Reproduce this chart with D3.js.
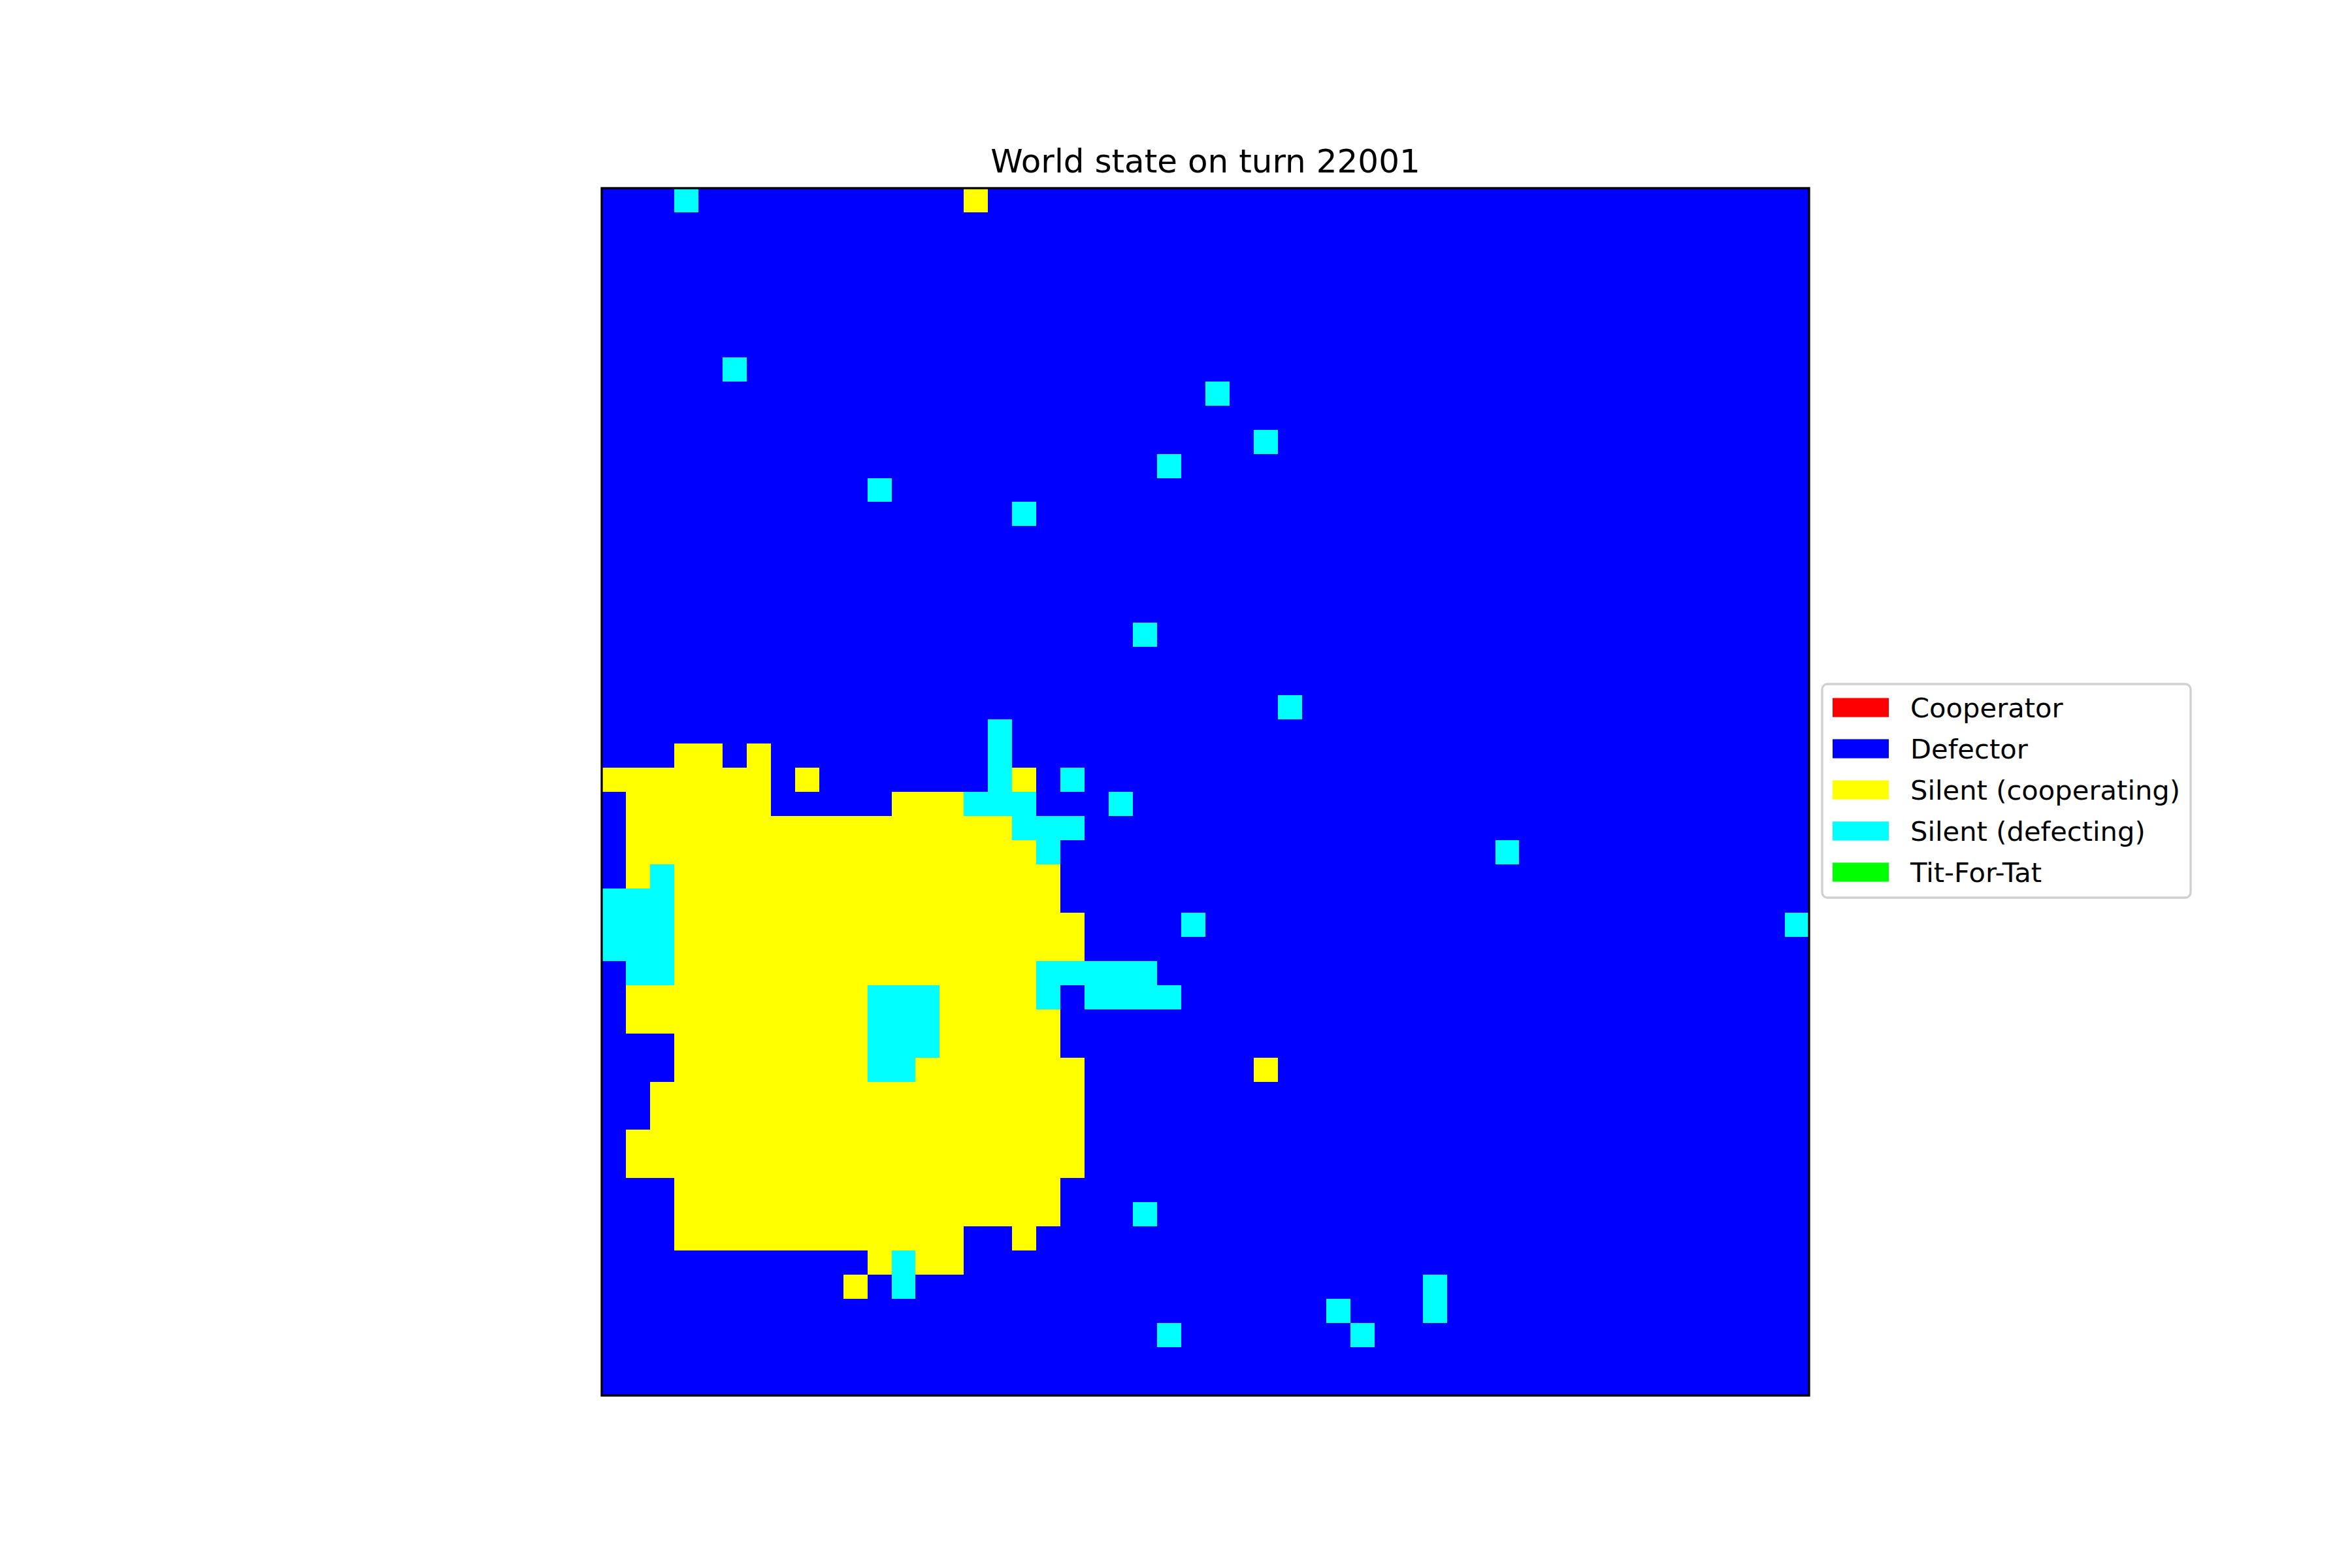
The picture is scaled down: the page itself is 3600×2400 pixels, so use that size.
<!DOCTYPE html>
<html><head><meta charset="utf-8">
<script src="https://cdn.jsdelivr.net/npm/d3@7"></script>
<style>body{margin:0;background:#fff}</style>
</head><body>
<script>
const title = "World state on turn 22001";
const categories = ["Cooperator", "Defector", "Silent (cooperating)", "Silent (defecting)", "Tit-For-Tat"];
const colors = ["#ff0000", "#0000ff", "#ffff00", "#00ffff", "#00ff00"];
const gridSize = 50;
const backgroundState = 1;
// runs: [row, firstCol, lastCol, stateIndex]
const runs = [
  [0,3,3,3],[0,15,15,2],
  [7,5,5,3],[8,25,25,3],[10,27,27,3],[11,23,23,3],[12,11,11,3],[13,17,17,3],[18,22,22,3],[21,28,28,3],
  [22,16,16,3],
  [23,3,4,2],[23,6,6,2],[23,16,16,3],
  [24,0,6,2],[24,8,8,2],[24,16,16,3],[24,17,17,2],[24,19,19,3],
  [25,1,6,2],[25,12,14,2],[25,15,17,3],[25,21,21,3],
  [26,1,16,2],[26,17,19,3],
  [27,1,17,2],[27,18,18,3],[27,37,37,3],
  [28,1,1,2],[28,2,2,3],[28,3,18,2],
  [29,0,2,3],[29,3,18,2],
  [30,0,2,3],[30,3,19,2],[30,24,24,3],[30,49,49,3],
  [31,0,2,3],[31,3,19,2],
  [32,1,2,3],[32,3,17,2],[32,18,22,3],
  [33,1,10,2],[33,11,13,3],[33,14,17,2],[33,18,18,3],[33,20,23,3],
  [34,1,10,2],[34,11,13,3],[34,14,18,2],
  [35,3,10,2],[35,11,13,3],[35,14,18,2],
  [36,3,10,2],[36,11,12,3],[36,13,19,2],[36,27,27,2],
  [37,2,19,2],[38,2,19,2],[39,1,19,2],[40,1,19,2],
  [41,3,18,2],[42,3,18,2],[42,22,22,3],
  [43,3,14,2],[43,17,17,2],
  [44,11,11,2],[44,12,12,3],[44,13,14,2],
  [45,10,10,2],[45,12,12,3],[45,34,34,3],
  [46,30,30,3],[46,34,34,3],
  [47,23,23,3],[47,31,31,3]
];

// build grid
const grid = [];
for (let r = 0; r < gridSize; r++) { grid.push(new Array(gridSize).fill(backgroundState)); }
runs.forEach(([r, c0, c1, s]) => { for (let c = c0; c <= c1; c++) grid[r][c] = s; });
const cells = [];
grid.forEach((row, r) => row.forEach((s, c) => cells.push({r, c, s})));

const W = 3600, H = 2400;
const plotLeft = 921, plotTop = 288, plotSize = 1848;
const svg = d3.select("body").append("svg").attr("width", W).attr("height", H)
  .style("font-family", "'DejaVu Sans', sans-serif");
svg.append("rect").attr("width", W).attr("height", H).attr("fill", "#fff");

const x = d3.scaleBand().domain(d3.range(gridSize)).range([plotLeft, plotLeft + plotSize]).padding(0);
const y = d3.scaleBand().domain(d3.range(gridSize)).range([plotTop, plotTop + plotSize]).padding(0);
const color = d3.scaleOrdinal().domain(d3.range(categories.length)).range(colors);

svg.append("g").attr("shape-rendering", "crispEdges").selectAll("rect").data(cells).join("rect")
  .attr("x", d => x(d.c)).attr("y", d => y(d.r))
  .attr("width", d => Math.min(x.bandwidth() + 1, plotLeft + plotSize - x(d.c)))
  .attr("height", d => Math.min(y.bandwidth() + 1, plotTop + plotSize - y(d.r)))
  .attr("fill", d => color(d.s));

svg.append("rect").attr("x", plotLeft).attr("y", plotTop).attr("width", plotSize).attr("height", plotSize)
  .attr("fill", "none").attr("stroke", "#000").attr("stroke-width", 3.3);

svg.append("text").attr("x", plotLeft + plotSize / 2).attr("y", 264).attr("text-anchor", "middle")
  .attr("font-size", 50).attr("fill", "#000").text(title);

// legend
const lg = svg.append("g");
const fs = 41.67;
const lx = 2789, ly = 1047, lw = 564, lh = 327;
lg.append("rect").attr("x", lx).attr("y", ly).attr("width", lw).attr("height", lh)
  .attr("rx", 8).attr("ry", 8).attr("fill", "#fff").attr("fill-opacity", 0.8)
  .attr("stroke", "#d0d0d0").attr("stroke-width", 3.3);
const ly0 = 1083, dy = 63;
categories.forEach((cat, i) => {
  const cy = ly0 + i * dy;
  lg.append("rect").attr("x", 2805).attr("y", cy - 14.6).attr("width", 86).attr("height", 29.2)
    .attr("fill", color(i));
  lg.append("text").attr("x", 2924).attr("y", cy + 15).attr("font-size", fs).attr("fill", "#000").text(cat);
});
</script>
</body></html>
